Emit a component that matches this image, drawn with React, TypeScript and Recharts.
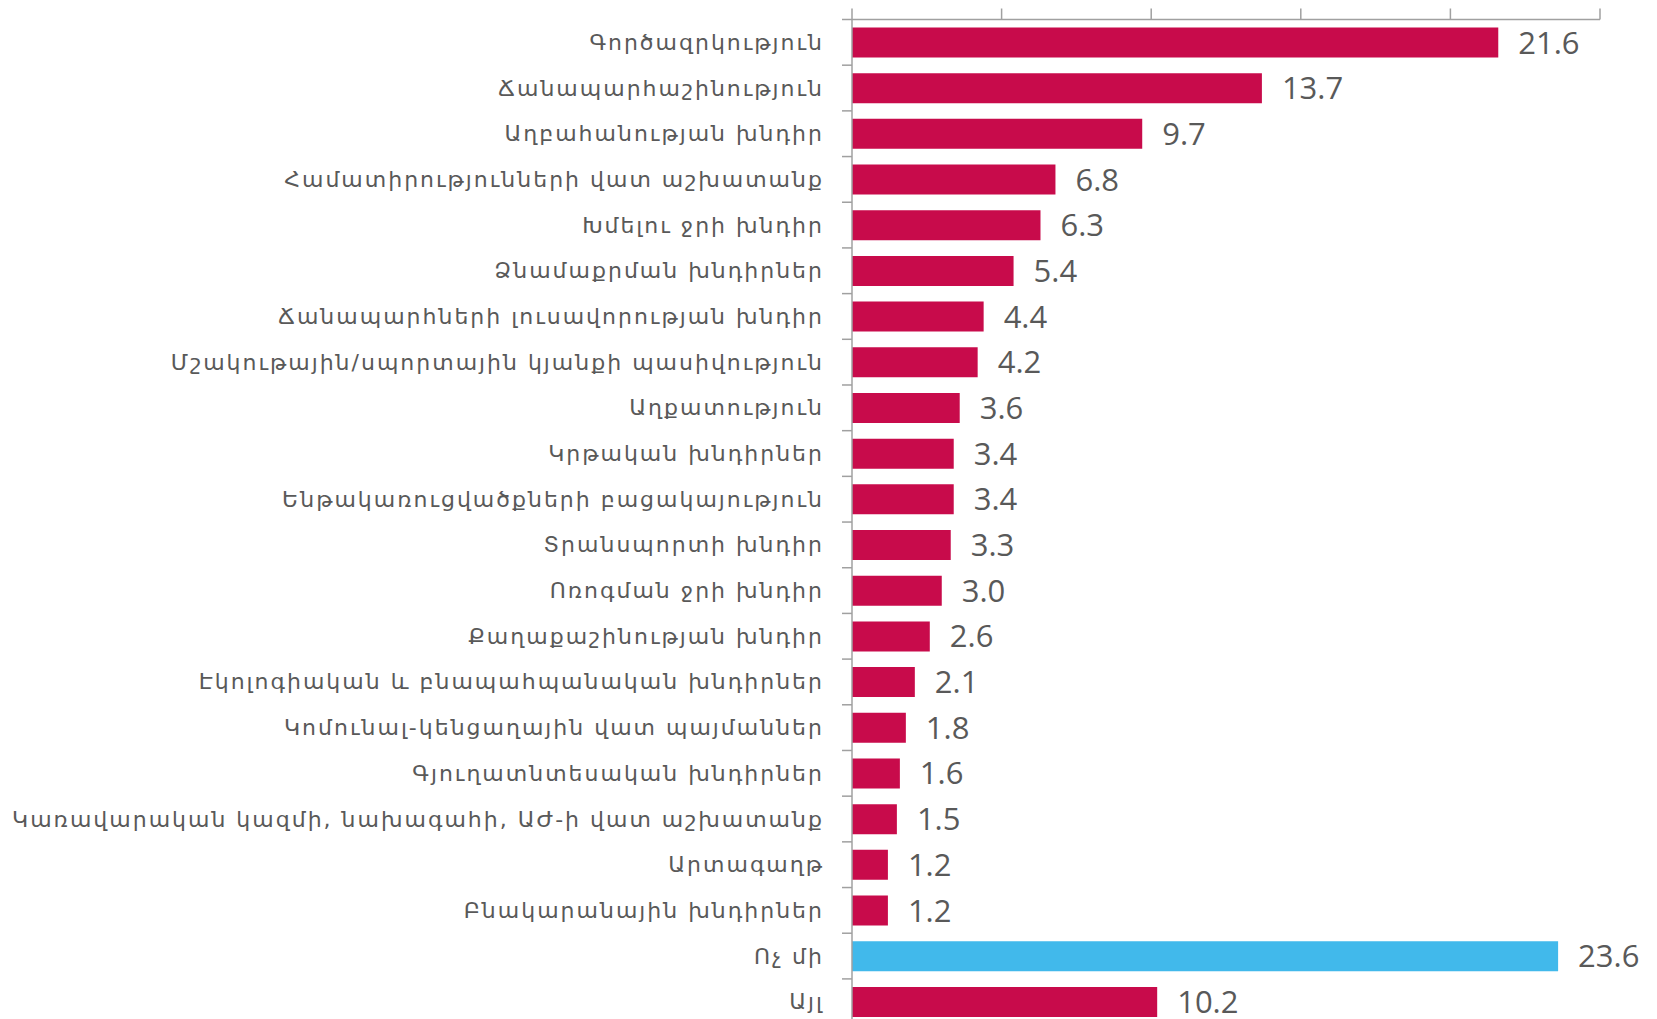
import React from "react";
import { BarChart, Bar, XAxis, YAxis, Cell, LabelList } from "recharts";

const categories = [
  "Գործազրկություն",
  "Ճանապարհաշինություն",
  "Աղբահանության խնդիր",
  "Համատիրությունների վատ աշխատանք",
  "Խմելու ջրի խնդիր",
  "Ձնամաքրման խնդիրներ",
  "Ճանապարհների լուսավորության խնդիր",
  "Մշակութային/սպորտային կյանքի պասիվություն",
  "Աղքատություն",
  "Կրթական խնդիրներ",
  "Ենթակառուցվածքների բացակայություն",
  "Տրանսպորտի խնդիր",
  "Ոռոգման ջրի խնդիր",
  "Քաղաքաշինության խնդիր",
  "Էկոլոգիական և բնապահպանական խնդիրներ",
  "Կոմունալ-կենցաղային վատ պայմաններ",
  "Գյուղատնտեսական խնդիրներ",
  "Կառավարական կազմի, նախագահի, ԱԺ-ի վատ աշխատանք",
  "Արտագաղթ",
  "Բնակարանային խնդիրներ",
  "Ոչ մի",
  "Այլ",
];

const values = [
  21.6, 13.7, 9.7, 6.8, 6.3, 5.4, 4.4, 4.2, 3.6, 3.4, 3.4, 3.3, 3.0, 2.6, 2.1,
  1.8, 1.6, 1.5, 1.2, 1.2, 23.6, 10.2,
];

const highlight = ["Ոչ մի"];

const xTicks = [0, 5, 10, 15, 20, 25];

const RED = "#C80B4B";
const BLUE = "#41B9EB";
const AXIS = "#A0A0A0";
const TEXT = "#595959";

const data = categories.map((name, i) => ({ name, value: values[i] }));

const YTick = (props: any) => {
  const { x, y, payload } = props;
  const half = 22.85;
  return (
    <g>
      <line x1={x + 18} x2={x + 28} y1={y - half} y2={y - half} stroke={AXIS} strokeWidth={1.5} />
      <text
        x={x}
        y={y}
        textAnchor="end"
        dominantBaseline="central"
        fill={TEXT}
        fontSize={22}
        letterSpacing={2}
        fontFamily="'DejaVu Sans', sans-serif"
      >
        {payload.value}
      </text>
    </g>
  );
};

const EmptyTick = () => <g />;

export default function App() {
  return (
    <div style={{ position: "fixed", left: 0, top: 0, width: 1657, height: 1019, overflow: "hidden", background: "#fff" }}>
      <BarChart
        width={1657}
        height={1040}
        data={data}
        layout="vertical"
        margin={{ top: 8.5, right: 57, left: 0, bottom: 15.4 }}
        barSize={30}
      >
        <XAxis
          type="number"
          orientation="top"
          domain={[0, 25]}
          ticks={xTicks}
          height={11}
          tick={EmptyTick}
          tickSize={11}
          axisLine={{ stroke: AXIS, strokeWidth: 1.5 }}
          tickLine={{ stroke: AXIS, strokeWidth: 1.5 }}
        />
        <YAxis
          type="category"
          dataKey="name"
          width={852}
          interval={0}
          tickSize={10}
          tickMargin={18}
          tickLine={false}
          axisLine={{ stroke: AXIS, strokeWidth: 1.5 }}
          tick={<YTick />}
        />
        <Bar dataKey="value" isAnimationActive={false}>
          {data.map((d) => (
            <Cell key={d.name} fill={highlight.includes(d.name) ? BLUE : RED} />
          ))}
          <LabelList
            dataKey="value"
            position="right"
            offset={20}
            formatter={(v: any) => Number(v).toFixed(1)}
            fill={TEXT}
            fontSize={31}
            fontFamily="'Open Sans', sans-serif"
          />
        </Bar>
      </BarChart>
    </div>
  );
}
